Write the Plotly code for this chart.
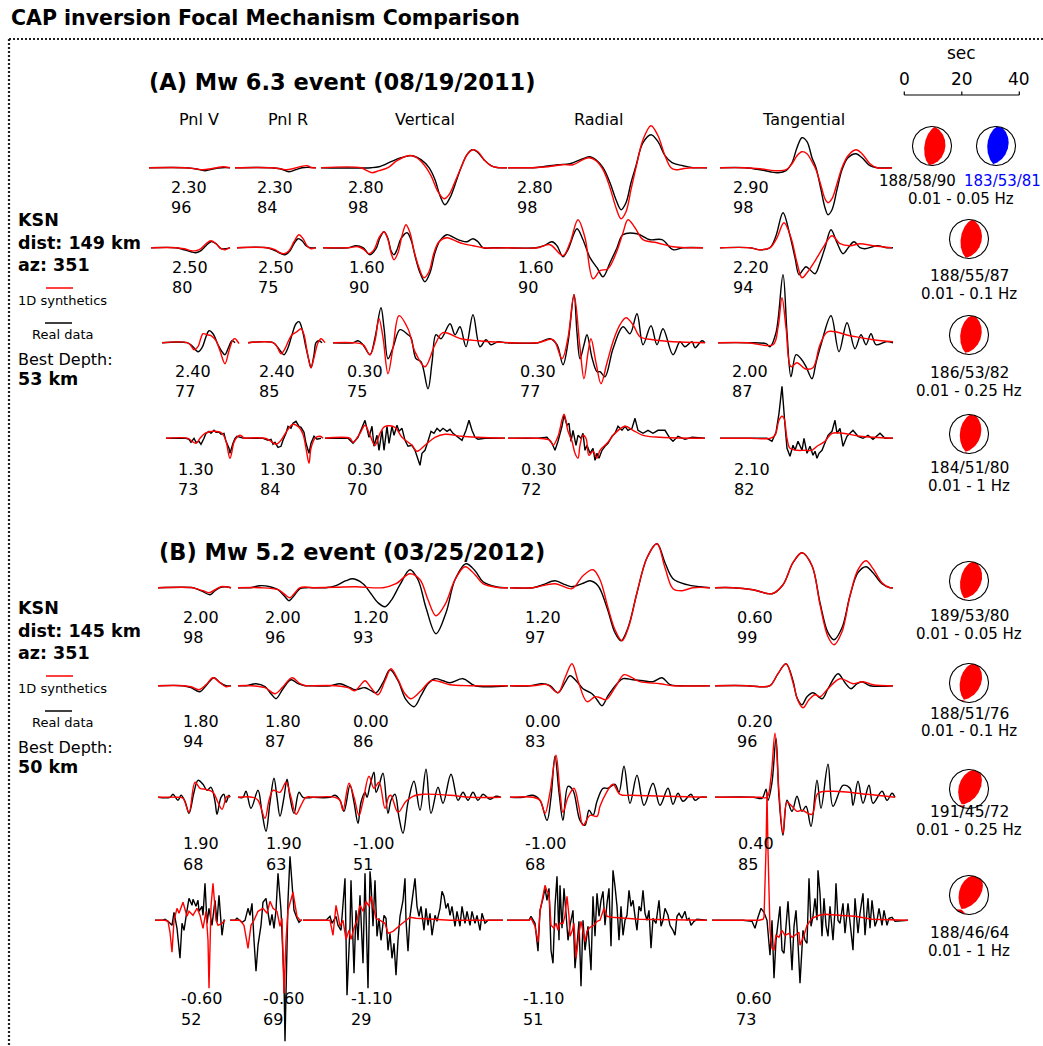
import numpy as np
import plotly.graph_objects as go

# ---------------------------------------------------------------------------
# Figure / scale constants
# ---------------------------------------------------------------------------
W, H = 1043, 1046
SEC_PX = 115 / 40.0          # horizontal time scale (pixels per second)
DT = 1.0 / SEC_PX            # sampling interval of the waveform keypoints (s)
AMP_PX = 1.0                 # scaled amplitude unit -> pixels

COMPONENTS = ["Pnl V", "Pnl R", "Vertical", "Radial", "Tangential"]
BANDS = ["0.01 - 0.05 Hz", "0.01 - 0.1 Hz", "0.01 - 0.25 Hz", "0.01 - 1 Hz"]

# time shifts (s) and cross-correlation (%) for each band / component
A_SHIFT = [[2.30, 2.30, 2.80, 2.80, 2.90],
           [2.50, 2.50, 1.60, 1.60, 2.20],
           [2.40, 2.40, 0.30, 0.30, 2.00],
           [1.30, 1.30, 0.30, 0.30, 2.10]]
A_CC = [[96, 84, 98, 98, 98],
        [80, 75, 90, 90, 94],
        [77, 85, 75, 77, 87],
        [73, 84, 70, 72, 82]]
B_SHIFT = [[2.00, 2.00, 1.20, 1.20, 0.60],
           [1.80, 1.80, 0.00, 0.00, 0.20],
           [1.90, 1.90, -1.00, -1.00, 0.40],
           [-0.60, -0.60, -1.10, -1.10, 0.60]]
B_CC = [[98, 96, 93, 97, 99],
        [94, 87, 86, 83, 96],
        [68, 63, 51, 68, 85],
        [52, 69, 29, 51, 73]]

# best double-couple solutions (strike, dip, rake) per band
A_MECH = [(188, 58, 90), (188, 55, 87), (186, 53, 82), (184, 51, 80)]
A_ALT_MECH = (183, 53, 81)
B_MECH = [(189, 53, 80), (188, 51, 76), (191, 45, 72), (188, 46, 64)]

# ---------------------------------------------------------------------------
# Waveform keypoints: (sample index, scaled amplitude), one list per component
# OBS = real data (black), SYN = 1D synthetics (red)
# ---------------------------------------------------------------------------
A1_OBS = [
    [(0, 0), (36, 0), (46, -1), (56, -3), (65, -1), (73, 0), (81, 0)],
    [(0, 0), (36, 0), (45, -1), (54, -4), (61, -2), (67, 0), (81, 0)],
    [(0, 0), (50, 0), (58, 1), (70, 6), (80, 10), (91, 12), (100, 8), (108, 0), (114, -12), (119, -28), (124, -37),
     (129, -30), (134, -17), (140, 0), (146, 13), (151, 18), (156, 16), (163, 8), (170, 2), (177, 0), (186, 0)],
    [(0, 0), (25, 0), (35, 1), (50, 3), (62, 4), (75, 9), (82, 11), (88, 8), (95, 0), (102, -15), (108, -32),
     (113, -42), (118, -35), (123, -15), (128, 2), (135, 25), (143, 33), (150, 26), (157, 12), (164, 5), (175, 2),
     (185, 0), (199, 0)],
    [(0, 0), (25, 0), (40, -2), (50, -4), (58, -5), (66, -3), (72, 5), (77, 20), (82, 30), (87, 26), (92, 10),
     (96, 0), (101, -22), (105, -40), (108, -47), (112, -42), (117, -22), (122, -2), (128, 10), (136, 14),
     (142, 10), (150, 2), (157, 0), (172, 0)],
]
A1_SYN = [
    [(0, 0), (36, 0), (46, -1), (54, -2), (62, -1), (68, 0), (74, 1), (81, 0)],
    [(0, 0), (36, 0), (45, -1), (51, -2), (58, -1), (65, 1), (72, 2), (77, 0), (81, 0)],
    [(0, 0), (40, 0), (46, -3), (51, -5), (58, -3), (67, 0), (76, 7), (87, 12), (94, 11), (103, 3), (110, -8),
     (117, -24), (123, -31), (128, -27), (134, -14), (140, 0), (146, 13), (152, 18), (157, 16), (164, 7),
     (172, 1), (180, 0), (186, 0)],
    [(0, 0), (25, 0), (40, 1), (55, 3), (65, 3), (75, 8), (81, 10), (88, 7), (95, -2), (102, -20), (108, -40),
     (113, -51), (118, -44), (123, -22), (128, 0), (135, 28), (143, 42), (150, 32), (157, 12), (163, 0),
     (168, -2), (175, -1), (185, 0), (199, 0)],
    [(0, 0), (25, 0), (40, -1), (55, -3), (66, -2), (72, 4), (77, 12), (82, 16), (87, 14), (92, 6), (96, -2),
     (101, -18), (105, -31), (108, -35), (112, -31), (117, -16), (122, 0), (128, 12), (136, 18), (142, 14),
     (150, 4), (157, 0), (172, 0)],
]

A2_OBS = [
    [(0, 0), (25, 0), (33, -2), (40, -4), (45, -5), (50, -3), (55, 2), (60, 6), (65, 4), (70, -1), (75, -1), (79, 0)],
    [(0, 0), (30, 0), (38, -3), (44, -6), (48, -7), (53, -3), (57, 4), (61, 9), (65, 7), (69, 2), (73, 0), (79, 0)],
    [(0, 0), (25, 0), (33, 2), (40, 0), (47, -7), (53, -1), (57, 10), (61, 16), (65, 9), (68, -3), (71, -7),
     (74, -2), (78, 9), (84, 15), (88, 8), (92, -8), (97, -25), (102, -34), (107, -25), (112, -5), (117, 7),
     (124, 13), (131, 10), (138, 7), (144, 6), (150, 9), (155, 6), (160, 0), (170, 0), (185, 0)],
    [(0, 0), (28, 0), (36, 2), (44, 6), (49, 2), (55, -9), (60, -2), (69, 19), (75, 8), (82, -10), (89, -20),
     (95, -29), (102, -15), (109, 0), (115, 13), (129, 14), (142, 8), (154, 8), (165, -2), (175, 0), (195, 0)],
    [(0, 0), (30, 0), (40, -2), (50, 0), (56, 12), (63, 35), (70, 12), (75, -10), (79, -27), (83, -22), (86, -19),
     (90, -22), (95, -26), (100, -15), (105, 0), (111, 18), (117, 5), (123, -6), (129, 1), (134, 6), (140, 0),
     (145, -1), (157, 2), (167, 0), (173, 0)],
]
A2_SYN = [
    [(0, 0), (25, 0), (33, -1), (40, -3), (45, -3), (50, -1), (55, 4), (60, 7), (65, 4), (70, -1), (74, -2), (79, 0)],
    [(0, 0), (30, 0), (38, -2), (43, -5), (47, -6), (52, -3), (57, 6), (62, 13), (66, 9), (70, 2), (74, -1), (79, 0)],
    [(0, 0), (25, 0), (35, 1), (41, -2), (46, -6), (51, -2), (56, 10), (61, 16), (65, 8), (68, -5), (71, -12),
     (75, -5), (79, 12), (83, 23), (87, 15), (91, -3), (96, -20), (101, -30), (106, -24), (111, -5), (116, 6),
     (124, 10), (132, 7), (140, 4), (150, 2), (160, 0), (185, 0)],
    [(0, 0), (30, 0), (42, 3), (55, -8), (62, 5), (70, 28), (77, 10), (85, -31), (92, -23), (100, -21), (109, -3),
     (115, 15), (120, 28), (127, 20), (135, 8), (149, 5), (165, 1), (179, 0), (195, 0)],
    [(0, 0), (30, 0), (40, -2), (50, 0), (57, 10), (64, 25), (71, 10), (77, -15), (82, -30), (87, -25), (97, -10),
     (103, 0), (112, 12), (120, 4), (130, 2), (140, 4), (153, 2), (172, 0)],
]

A3_OBS = [
    [(0, 0), (25, 0), (30, -3), (36, -9), (40, -5), (44, 6), (47, 12), (51, 9), (56, -2), (60, -9), (63, -12),
     (66, -6), (70, 2), (73, 0)],
    [(0, 0), (25, 0), (30, -5), (36, -12), (40, -5), (44, 8), (48, 19), (51, 21), (54, 14), (58, -5), (61, -18),
     (63, -25), (66, -12), (68, 0), (71, 2), (74, 0)],
    [(0, 0), (20, 0), (25, 2), (30, -2), (37, -12), (42, 5), (48, 35), (51, 15), (55, -16), (60, -5), (67, 13),
     (75, 8), (78, 5), (83, -16), (88, -19), (95, -46), (99, -20), (103, 8), (108, 4), (117, 19), (122, 8),
     (127, 16), (133, -4), (140, 28), (147, -4), (153, 3), (158, -2), (165, 1), (172, 0), (180, 0)],
    [(0, 0), (30, 0), (42, 4), (49, -2), (55, -22), (60, 0), (66, 48), (69, 10), (72, -16), (76, -2), (79, 8),
     (84, -15), (89, -29), (92, -29), (97, -34), (105, -6), (115, 16), (122, 9), (129, 29), (135, -2), (143, 17),
     (149, -2), (155, 14), (165, -12), (172, 1), (177, -4), (184, 1), (187, -5), (194, 2), (197, 0)],
    [(0, 0), (30, 0), (48, -1), (52, -4), (58, 10), (65, 68), (69, 10), (73, -34), (78, -12), (83, -16), (88, -24),
     (94, -36), (98, -20), (103, -2), (113, 27), (121, -9), (129, 20), (137, -6), (143, 8), (148, -2), (153, 9),
     (158, -2), (168, 1), (175, 0)],
]
A3_SYN = [
    [(0, 0), (25, 0), (29, -3), (32, -7), (36, -4), (39, 5), (41, 9), (45, 8), (49, 7), (54, 2), (58, -8),
     (63, -21), (67, -8), (71, 3), (73, 4), (77, -1)],
    [(0, 0), (25, 0), (29, -4), (33, -11), (37, -6), (41, 3), (44, 8), (49, 11), (53, 14), (56, 8), (59, -8),
     (63, -25), (66, -15), (70, 0), (73, 4), (77, 0)],
    [(0, 0), (20, 0), (30, -2), (37, -12), (42, 2), (46, 24), (50, 5), (55, -31), (60, -5), (66, 27), (75, 14),
     (82, -9), (92, -24), (102, -2), (110, 10), (128, 4), (145, 2), (178, 0)],
    [(0, 0), (30, 0), (45, 3), (54, -16), (60, 5), (66, 48), (72, -5), (76, -36), (80, -10), (83, 4), (88, -20),
     (93, -41), (99, -20), (105, 1), (112, 18), (118, 25), (125, 18), (132, 6), (145, 3), (165, 1), (197, 0)],
    [(0, 0), (30, 0), (55, -2), (60, 15), (64, 45), (68, 15), (73, -24), (79, -20), (87, -26), (95, -25),
     (102, -2), (110, 11), (132, 7), (155, 3), (175, 1)],
]

A4_OBS = [
    [(0, 0), (20, 0), (23, -1), (25, -4), (28, 0), (30, -4), (33, -3), (35, -6), (38, 0), (40, 5), (43, 7), (45, 5),
     (48, 8), (50, 6), (53, 6), (55, 4), (58, 5), (60, -3), (63, -10), (64, -15), (67, -5), (69, 0), (71, 2),
     (74, 1), (78, 0)],
    [(0, 0), (20, 0), (25, -2), (28, -1), (30, -6), (32, -4), (35, -9), (38, -8), (40, -2), (43, 5), (45, 12),
     (48, 10), (50, 15), (53, 17), (56, 12), (58, 11), (61, 6), (63, -5), (66, -15), (68, -5), (71, 2), (74, -1),
     (78, 0)],
    [(0, 0), (23, 0), (28, -5), (33, 1), (40, 18), (44, 1), (47, 12), (49, -8), (52, 3), (54, -12), (57, 8),
     (59, -12), (62, 12), (64, -5), (67, 12), (69, 3), (72, 13), (74, 7), (77, 10), (80, -2), (83, -8), (87, -7),
     (90, -12), (93, -20), (95, -27), (97, -15), (100, -12), (103, -3), (106, 7), (109, 5), (112, 10), (115, 7),
     (118, 10), (122, 7), (125, 9), (128, 5), (133, 1), (137, -2), (141, 8), (144, 18), (147, 8), (150, 1),
     (153, -1), (160, 0), (180, 0)],
    [(0, 0), (30, 0), (39, 1), (44, -5), (47, -12), (50, -3), (54, 12), (56, 23), (59, 13), (61, 15), (63, -3),
     (65, 8), (68, -7), (70, 3), (73, 0), (75, 5), (77, -12), (79, -7), (82, -15), (85, -10), (87, -22), (89, -15),
     (91, -20), (94, -12), (97, -8), (100, -5), (104, 2), (107, 5), (110, 12), (114, 8), (117, 12), (120, 8),
     (124, 10), (127, 20), (130, 8), (135, 5), (140, 8), (145, 5), (150, 8), (157, 8), (162, 0), (165, -3),
     (170, 2), (177, -1), (184, 1), (192, 0), (197, 0)],
    [(0, 0), (30, 0), (47, 0), (52, -3), (56, 6), (59, 25), (62, 52), (65, 13), (67, -10), (70, -18), (73, -7),
     (75, -12), (78, -3), (82, -12), (84, 0), (87, -15), (90, -8), (93, -17), (95, -13), (97, -20), (99, -15),
     (102, -12), (105, -5), (108, 3), (112, 7), (115, 18), (117, 5), (120, 10), (123, -8), (127, 2), (130, 5),
     (133, 8), (138, 2), (143, 0), (148, 3), (153, -1), (160, 5), (165, 0), (173, 0)],
]
A4_SYN = [
    [(0, 0), (22, 0), (26, -3), (30, -5), (34, 0), (39, 5), (48, 7), (56, 5), (60, -3), (64, -20), (68, -4),
     (71, 1), (74, 3), (78, 0)],
    [(0, 0), (22, 0), (28, -3), (33, -6), (38, -2), (43, 6), (50, 14), (56, 11), (60, 4), (63, -10), (66, -25),
     (68, -10), (72, 0), (77, 2), (80, 0)],
    [(0, 0), (25, 0), (28, -4), (35, 5), (40, 13), (45, 3), (50, -7), (55, 5), (60, 12), (70, 11), (77, 1),
     (87, -7), (92, -13), (100, -7), (110, 1), (120, 4), (137, 2), (153, 1), (180, 0)],
    [(0, 0), (30, 0), (42, -2), (45, -7), (50, 2), (56, 24), (60, 7), (64, -3), (67, -15), (70, -20), (72, -7),
     (75, 3), (78, 0), (81, -17), (85, -13), (89, -20), (92, -12), (99, -5), (107, 5), (117, 12), (125, 8),
     (135, 3), (152, 1), (197, 0)],
    [(0, 0), (30, 0), (50, 0), (55, 3), (59, 18), (62, 22), (64, 20), (67, 0), (70, -10), (77, -12), (85, -12),
     (92, -12), (97, -8), (105, -3), (112, 5), (123, 5), (140, 2), (173, 0)],
]

B1_OBS = [
    [(0, 0), (35, 0), (38, -1), (45, -4), (52, -7), (57, -3), (62, 0), (67, 1), (73, 0)],
    [(0, 0), (12, 0), (22, 2), (32, 1), (40, -2), (47, -9), (51, -13), (56, -8), (62, -1), (68, 0), (75, 0)],
    [(0, 0), (13, 0), (23, 2), (33, 7), (40, 9), (50, 4), (58, -6), (65, -15), (72, -19), (78, -13), (87, 3),
     (97, 18), (105, 8), (113, -20), (123, -46), (133, -25), (142, 8), (153, 24), (162, 17), (170, 6), (183, 1),
     (195, 0)],
    [(0, 0), (23, 0), (33, 3), (45, 7), (55, 3), (62, 1), (72, 4), (80, 7), (88, 2), (97, -20), (105, -45),
     (111, -53), (118, -40), (127, -5), (137, 30), (147, 44), (155, 25), (163, 9), (177, 3), (190, 1), (200, 0)],
    [(0, 0), (18, 0), (38, -2), (57, -6), (68, 3), (78, 25), (87, 35), (97, 22), (105, -15), (113, -45),
     (119, -52), (127, -40), (135, -8), (143, 15), (151, 21), (158, 15), (167, 4), (175, 0), (178, 0)],
]
B1_SYN = [
    [(0, 0), (35, 0), (38, -1), (45, -3), (51, -5), (57, -2), (63, 1), (73, 0)],
    [(0, 0), (22, 0), (40, -2), (47, -7), (52, -10), (57, -5), (62, 0), (75, 0)],
    [(0, 0), (23, 0.5), (43, 1), (70, 0), (83, 4), (97, 14), (107, 8), (115, -12), (123, -28), (132, -17),
     (142, 8), (152, 21), (162, 13), (170, 4), (183, 0.5), (195, 0)],
    [(0, 0), (23, 0), (45, 4), (62, -1), (73, 12), (83, 18), (90, 8), (98, -20), (105, -42), (112, -53),
     (119, -38), (127, -5), (137, 30), (147, 44), (155, 20), (163, -1), (172, -3), (183, 0), (200, 0)],
    [(0, 0), (18, 0), (38, -2), (57, -6), (68, 3), (78, 25), (87, 35), (97, 22), (105, -17), (113, -49),
     (119, -57), (127, -44), (135, -8), (143, 18), (151, 27), (158, 19), (167, 5), (175, 0), (178, 0)],
]

B2_OBS = [
    [(0, 0), (25, 0), (33, -2), (42, -6), (48, 0), (56, 8), (62, 3), (68, 0), (73, 0)],
    [(0, 0), (8, 0), (18, 2), (27, -1), (33, -8), (38, -13), (45, -3), (53, 6), (60, 2), (67, 0), (75, 0)],
    [(0, 0), (17, 0), (27, 2), (37, -2), (42, -4), (52, -2), (58, -5), (63, -7), (70, 3), (77, 16), (85, 5),
     (93, -14), (101, -21), (108, -10), (115, 2), (122, 7), (130, 5), (137, 3), (150, 7), (162, 0), (195, 0)],
    [(0, 0), (20, 0), (32, 2), (40, 0), (48, -7), (55, 3), (60, 10), (67, 4), (73, -3), (82, -8), (87, -14),
     (92, -20), (98, -10), (107, 2), (113, 7), (123, 6), (133, 5), (143, 4), (152, 8), (160, 1), (170, 0),
     (200, 0)],
    [(0, 0), (32, 0), (45, -1), (55, 0), (63, 12), (71, 22), (78, 5), (82, -12), (87, -19), (92, -11), (98, -7),
     (107, -13), (113, -3), (123, 12), (130, 3), (136, -3), (142, 2), (147, 4), (155, 0), (178, 0)],
]
B2_SYN = [
    [(0, 0), (25, 0), (33, -1), (41, -4), (48, 1), (55, 8), (62, 3), (68, -1), (73, 0)],
    [(0, 0), (12, 0), (27, -2), (37, -8), (45, -1), (54, 8), (62, 2), (68, 0), (75, 0)],
    [(0, 0), (23, 0), (35, -2), (42, -5), (47, 0), (52, 5), (58, -2), (65, -9), (72, 5), (78, 17), (85, 6),
     (92, -8), (98, -13), (108, -5), (118, 5), (127, 4), (137, 1), (157, 0), (195, 0)],
    [(0, 0), (23, 0), (37, 1), (48, -7), (55, 8), (62, 22), (68, 5), (77, -16), (85, -11), (90, -12), (96, -14),
     (105, -2), (114, 11), (122, 8), (130, 4), (150, 2), (163, 0), (200, 0)],
    [(0, 0), (32, 0), (45, -1), (55, 0), (63, 12), (71, 22), (78, 3), (83, -15), (88, -22), (94, -14), (100, -9),
     (105, -11), (113, -3), (125, 7), (138, 2), (148, 4), (158, 1), (178, 0)],
]

B3_OBS = [
    [(0, 0), (12, 0), (15, 3), (20, -3), (23, 2), (27, -4), (31, -16), (36, 5), (40, 17), (45, 13), (49, 7),
     (53, 10), (57, -4), (59, -17), (63, 0), (66, 3), (68, -5), (71, 2), (72, 0)],
    [(0, 0), (5, 0), (8, 6), (13, -11), (20, 7), (24, -15), (28, -34), (32, -5), (36, 19), (39, 0), (42, -19),
     (46, 0), (49, 18), (52, 0), (56, -16), (61, 5), (65, 0), (75, 0)],
    [(0, 0), (17, 0), (22, 2), (27, -3), (31, -14), (37, 12), (41, -5), (45, -26), (48, -5), (52, 5), (54, 0),
     (57, 12), (61, 25), (63, 5), (66, 12), (70, 24), (75, -16), (78, -3), (82, 3), (86, -20), (90, -36), (95, -5),
     (101, 16), (107, -13), (113, 28), (118, -16), (125, 10), (130, -6), (138, 23), (145, -3), (150, 5),
     (155, -3), (160, 5), (165, -3), (170, 3), (177, -2), (183, 1), (188, 0)],
    [(0, 0), (13, 0), (23, 2), (30, -3), (37, -23), (41, 0), (45, 41), (49, 5), (53, -23), (58, 11), (63, 7),
     (70, -23), (75, -28), (79, -13), (83, -18), (87, -4), (93, 9), (98, 9), (105, 13), (109, 5), (114, 31),
     (120, -6), (127, 22), (134, -8), (143, 14), (150, -8), (158, 9), (163, -7), (168, 4), (173, -4), (181, 3),
     (185, -3), (190, 0), (197, 0)],
    [(0, 0), (38, 0), (47, -1), (51, 8), (53, -3), (57, 15), (61, 59), (64, 0), (68, -38), (72, -3), (77, -14),
     (82, 1), (87, -14), (91, -9), (96, -29), (102, 17), (106, -11), (113, 33), (118, -9), (128, 12), (135, 9),
     (138, -8), (143, 16), (148, -6), (154, 12), (158, -6), (167, 6), (172, -3), (177, 4), (180, 0)],
]
B3_SYN = [
    [(0, 0), (20, 0), (25, -1), (31, -15), (37, 15), (42, 9), (48, 8), (55, 5), (60, -5), (64, -12), (69, 1),
     (72, 0)],
    [(0, 0), (15, 0), (20, -3), (27, -21), (31, -3), (35, 7), (42, 5), (48, 15), (53, 0), (58, -17), (63, -8),
     (68, 0), (75, 0)],
    [(0, 0), (22, 0), (27, -3), (30, -13), (36, 14), (41, 0), (46, -18), (50, -4), (56, 21), (61, 9), (66, 15),
     (72, -11), (76, 1), (78, 2), (85, -15), (93, -4), (100, 1), (110, 3), (137, 2), (157, 0), (188, 0)],
    [(0, 0), (23, 0), (30, -3), (35, -16), (40, 5), (46, 42), (50, 5), (53, -15), (58, 0), (64, 9), (69, -10),
     (73, -28), (80, -18), (87, -19), (90, -9), (96, 4), (103, 13), (110, 3), (123, 2), (157, 1), (197, 0)],
    [(0, 0), (45, 0), (52, 0), (56, 20), (60, 64), (64, 5), (68, -36), (72, -5), (77, -9), (82, -14), (87, -13),
     (97, -17), (103, 4), (118, 6), (152, 3), (180, 0)],
]

B4_OBS = [
    [(0, 0), (7, 0), (10, 1), (13, -1), (17, -5), (19, 8), (22, -8), (25, -38), (27, -3), (29, -10), (32, 10),
     (34, 22), (37, 15), (38, 21), (41, 14), (43, 20), (44, 9), (47, 14), (48, 5), (50, 37), (52, -3), (54, 12),
     (57, -5), (60, 20), (62, -2), (64, 25), (67, -15), (69, 0), (70, 0)],
    [(0, 0), (5, 0), (7, 2), (12, -2), (15, 0), (18, 12), (20, 5), (22, 17), (24, -20), (26, -51), (28, -25),
     (31, -5), (33, 18), (36, 22), (38, 8), (40, -5), (42, 6), (44, -8), (46, 10), (48, 47), (51, 10), (52, -20),
     (54, -60), (55, -121), (57, -40), (58, 20), (60, 64), (62, 35), (64, 10), (67, 2), (69, -2), (71, 0),
     (72, 0)],
    [(0, 0), (23, 0), (27, 4), (29, -3), (33, 4), (35, -5), (38, -10), (42, 42), (44, -75), (47, -6), (48, 40),
     (51, -53), (53, 10), (55, -20), (57, 25), (60, -43), (62, 47), (64, -20), (65, -68), (67, 49), (68, 37),
     (70, -6), (72, 40), (74, -16), (76, 2), (78, -20), (81, 5), (83, 2), (85, -30), (87, -13), (89, -38),
     (91, -23), (93, -55), (95, -20), (97, 4), (100, 20), (102, 42), (103, 0), (105, -31), (107, 4), (110, 30),
     (112, 42), (114, 14), (116, 4), (118, 14), (121, -10), (123, 12), (125, -5), (127, 7), (129, -15), (132, 5),
     (134, -1), (137, 12), (139, 29), (141, 24), (143, 12), (145, 17), (147, 5), (149, 14), (152, -6), (154, 9),
     (157, -6), (159, 14), (162, -3), (164, 9), (167, -5), (169, 9), (172, -3), (174, 5), (177, -10), (179, 7),
     (182, -3), (185, 0), (200, 0)],
    [(0, 0), (22, 0), (24, 4), (28, -3), (31, -31), (33, 10), (36, 22), (38, 32), (40, 20), (42, 32), (44, -30),
     (46, -43), (48, 14), (50, 44), (52, -20), (53, 35), (55, -8), (57, 32), (59, 7), (61, -20), (63, -5),
     (66, 10), (68, -48), (70, -20), (72, -1), (74, -66), (76, 0), (78, -30), (81, -6), (84, -50), (86, 24),
     (88, -16), (90, 27), (92, 4), (94, 20), (96, 29), (98, -5), (100, 17), (102, 32), (104, -26), (106, 50),
     (108, 34), (110, 14), (112, -20), (114, 14), (116, -15), (118, 0), (120, 5), (122, 30), (124, 14), (126, 20),
     (128, 4), (130, -10), (132, 14), (134, 9), (136, 30), (138, 7), (140, 0), (142, 10), (144, -28), (146, 2),
     (149, -3), (152, 20), (154, -6), (156, 0), (158, 12), (161, 5), (163, -5), (166, -10), (168, -15), (170, 4),
     (172, 7), (175, 2), (178, 9), (180, 0), (182, 2), (184, -5), (187, -1), (190, 1), (200, 0)],
    [(0, 0), (31, 0), (40, -1), (43, -8), (46, 3), (49, 12), (52, 8), (55, 0), (58, -35), (60, 0), (62, -58),
     (64, -20), (66, -3), (68, 14), (70, -30), (72, -33), (74, -6), (76, 19), (78, -13), (80, -50), (82, -6),
     (84, 10), (86, -23), (88, -63), (91, -10), (93, -20), (95, -23), (97, 42), (99, -6), (101, 4), (103, 22),
     (105, 0), (106, 50), (108, 27), (110, -16), (112, 22), (114, -5), (116, -16), (118, 14), (121, -20),
     (123, 10), (124, 37), (126, 0), (128, -3), (131, 17), (133, -13), (136, 17), (138, -3), (141, -30),
     (143, 22), (146, -13), (148, 7), (151, 27), (153, -15), (156, 22), (158, -8), (160, 20), (163, -6), (165, 0),
     (167, 12), (170, -5), (172, 10), (175, -5), (177, 2), (180, 3), (183, -1), (196, 0)],
]
B4_SYN = [
    [(0, 0), (10, 0), (13, -1), (15, -12), (17, -32), (19, 0), (22, 12), (24, 7), (28, 18), (32, 4), (34, 9),
     (38, 5), (42, 12), (45, 5), (48, -8), (51, 9), (53, -20), (54, -68), (56, 14), (58, 37), (61, 0), (63, -5),
     (67, -3), (70, 0)],
    [(0, 0), (10, 0), (14, -5), (18, -28), (21, -5), (24, 0), (28, 9), (33, 12), (37, 7), (40, 19), (43, 12),
     (47, 9), (50, -6), (52, 2), (54, -73), (56, -20), (58, 10), (63, 28), (67, 4), (70, 0), (72, 0)],
    [(0, 0), (23, 0), (27, 0), (30, -15), (33, 15), (35, 5), (37, -6), (40, 0), (43, -19), (46, -10), (48, -19),
     (51, -8), (54, 0), (57, 15), (60, 9), (63, 19), (66, 14), (68, 24), (71, 12), (73, 2), (77, 0), (82, -3),
     (85, -13), (90, -11), (97, -5), (107, 3), (113, 2), (147, 0), (200, 0)],
    [(0, 0), (22, 0), (24, 2), (28, -6), (31, -22), (33, 9), (38, 35), (40, 29), (42, 27), (44, -5), (47, -8),
     (49, -3), (51, -10), (53, -3), (56, -3), (58, 5), (60, 24), (62, 4), (63, -16), (65, -11), (67, -3),
     (69, -38), (72, -13), (74, -1), (78, -21), (80, -11), (83, -7), (87, -5), (90, -1), (93, 0), (97, 12),
     (100, 4), (105, 3), (115, 2), (132, 1), (200, 0)],
    [(0, 0), (47, 0), (51, 1), (52, 3), (54, 70), (55, 128), (56, 70), (58, -10), (60, -28), (62, -30),
     (64, -15), (67, -17), (70, -10), (73, -15), (77, -13), (80, -17), (83, -15), (87, -12), (88, -25), (92, -15),
     (95, -5), (100, 2), (107, 5), (113, 6), (127, 5), (143, 4), (160, 1), (196, 0)],
]

# ---------------------------------------------------------------------------
# Page geometry (pixels)
# ---------------------------------------------------------------------------
ROWS = [
    # baseline, window start for each component, label x, label y (shift, cc), line shapes (obs, syn)
    dict(obs=A1_OBS, syn=A1_SYN, base=167.7, x0=[149, 235, 321, 508, 720],
         lx=[170, 256, 347, 516, 732], ly=(187, 207), shape=("spline", "spline"), shift=A_SHIFT[0], cc=A_CC[0]),
    dict(obs=A2_OBS, syn=A2_SYN, base=247.7, x0=[151, 237, 323, 508, 720],
         lx=[171, 257, 348, 517, 732], ly=(267, 287), shape=("spline", "spline"), shift=A_SHIFT[1], cc=A_CC[1]),
    dict(obs=A3_OBS, syn=A3_SYN, base=342.7, x0=[162, 248, 333, 508, 718],
         lx=[174, 258, 346, 519, 731], ly=(371, 391), shape=("spline", "spline"), shift=A_SHIFT[2], cc=A_CC[2]),
    dict(obs=A4_OBS, syn=A4_SYN, base=438.3, x0=[166, 243, 325, 508, 720],
         lx=[177, 259, 346, 520, 733], ly=(469, 489), shape=("linear", "spline"), shift=A_SHIFT[3], cc=A_CC[3]),
    dict(obs=B1_OBS, syn=B1_SYN, base=587.7, x0=[158, 238, 313, 510, 715],
         lx=[182, 264, 352, 524, 736], ly=(617, 637), shape=("spline", "spline"), shift=B_SHIFT[0], cc=B_CC[0]),
    dict(obs=B2_OBS, syn=B2_SYN, base=685.7, x0=[158, 238, 313, 510, 715],
         lx=[182, 264, 352, 524, 736], ly=(721, 741), shape=("spline", "spline"), shift=B_SHIFT[1], cc=B_CC[1]),
    dict(obs=B3_OBS, syn=B3_SYN, base=797.3, x0=[158, 238, 313, 510, 715],
         lx=[182, 265, 352, 524, 737], ly=(843, 864), shape=("spline", "spline"), shift=B_SHIFT[2], cc=B_CC[2]),
    dict(obs=B4_OBS, syn=B4_SYN, base=920.3, x0=[155, 230, 303, 507, 712],
         lx=[180, 262, 350, 522, 735], ly=(998, 1019), shape=("linear", "linear"), shift=B_SHIFT[3], cc=B_CC[3]),
]

# beachball centre (x, y) and the two text lines below it
BALLS = [
    (969, 239, 276, 294), (969, 335, 373, 391), (969, 434, 468, 486),
    (969, 581, 616, 634), (969, 683, 714, 731), (969, 789, 812, 830), (969, 895, 933, 951),
]
BALL_R = 19.5

FONT = "DejaVu Sans"
fig = go.Figure()


def add_line(x, y, color, width=1.4, shape="linear", dash=None):
    fig.add_trace(go.Scatter(x=x, y=y, mode="lines", hoverinfo="skip",
                             line=dict(color=color, width=width, shape=shape, dash=dash)))


def add_text(x, y, text, size=16, color="black", xanchor="left", yanchor="middle", bold=False):
    fig.add_annotation(x=x, y=y, xref="x", yref="y", text=f"<b>{text}</b>" if bold else text,
                       showarrow=False, xanchor=xanchor, yanchor=yanchor, borderpad=0,
                       font=dict(family=FONT, size=size, color=color))


def add_wave(pts, x0, base, color, shape):
    t = np.array([p[0] for p in pts], float) * DT
    a = np.array([p[1] for p in pts], float)
    add_line(x0 + t * SEC_PX, base - a * AMP_PX, color, 1.4, shape)


# ---------------------------------------------------------------------------
# Focal mechanism (lower hemisphere, equal-area)
# ---------------------------------------------------------------------------
def fault_vectors(strike, dip, rake):
    f, d, l = np.radians([strike, dip, rake])
    normal = np.array([-np.sin(d) * np.sin(f), np.sin(d) * np.cos(f), -np.cos(d)])
    slip = np.array([np.cos(l) * np.cos(f) + np.cos(d) * np.sin(l) * np.sin(f),
                     np.cos(l) * np.sin(f) - np.cos(d) * np.sin(l) * np.cos(f),
                     -np.sin(l) * np.sin(d)])
    return normal, slip


def ray_crossing(v, th):
    """Projected radius where azimuth ray th meets the nodal plane with normal v."""
    h = v[0] * np.cos(th) + v[1] * np.sin(th)
    tp = -h / v[2]
    r = np.full_like(th, np.inf)
    ok = tp >= 0
    plunge = np.arctan(tp[ok])
    r[ok] = np.sqrt(2) * np.sin((np.pi / 2 - plunge) / 2)
    return r


def runs(mask):
    idx = np.where(mask)[0]
    if len(idx) == 0:
        return []
    groups = np.split(idx, np.where(np.diff(idx) > 1)[0] + 1)
    if len(groups) > 1 and groups[0][0] == 0 and groups[-1][-1] == len(mask) - 1:
        groups[0] = np.concatenate([groups[-1], groups[0]])
        groups.pop()
    return groups


def beachball(cx, cy, mech, color):
    th = np.linspace(0, 2 * np.pi, 720, endpoint=False)
    n, s = fault_vectors(*mech)
    r1, r2 = ray_crossing(n, th), ray_crossing(s, th)
    lo, hi = np.minimum(r1, r2), np.maximum(r1, r2)
    polys = []
    if n[2] * s[2] > 0:                       # compressional centre
        rb = np.minimum(lo, 1.0)
        polys.append((np.zeros_like(th), rb, np.arange(len(th))))
        for g in runs(hi < 1.0):
            polys.append((hi, np.ones_like(th), g))
    else:
        for g in runs(lo < 1.0):
            polys.append((lo, np.minimum(hi, 1.0), g))
    for inner, outer, g in polys:
        tt = th[g]
        xo = cx + BALL_R * outer[g] * np.sin(tt)
        yo = cy - BALL_R * outer[g] * np.cos(tt)
        if np.all(inner[g] == 0):
            xs, ys = xo, yo
        else:
            xi = cx + BALL_R * inner[g] * np.sin(tt)
            yi = cy - BALL_R * inner[g] * np.cos(tt)
            xs, ys = np.concatenate([xo, xi[::-1]]), np.concatenate([yo, yi[::-1]])
        fig.add_trace(go.Scatter(x=np.append(xs, xs[0]), y=np.append(ys, ys[0]), mode="lines",
                                 fill="toself", fillcolor=color, line=dict(width=0, color=color),
                                 hoverinfo="skip"))
    tc = np.linspace(0, 2 * np.pi, 181)
    add_line(cx + BALL_R * np.sin(tc), cy - BALL_R * np.cos(tc), "black", 1.1)


# ---------------------------------------------------------------------------
# Waveforms and their labels
# ---------------------------------------------------------------------------
for row in ROWS:
    for k in range(5):
        add_wave(row["obs"][k], row["x0"][k], row["base"], "black", row["shape"][0])
    for k in range(5):
        add_wave(row["syn"][k], row["x0"][k], row["base"], "red", row["shape"][1])
    for k in range(5):
        add_text(row["lx"][k], row["ly"][0], f"{row['shift'][k]:.2f}")
        add_text(row["lx"][k], row["ly"][1], f"{row['cc'][k]}")

# beachballs
beachball(932, 146, A_MECH[0], "red")
beachball(996, 146, A_ALT_MECH, "blue")
add_text(917, 181, "%d/%d/%d" % A_MECH[0], size=15, xanchor="center")
add_text(1002, 181, "%d/%d/%d" % A_ALT_MECH, size=15, color="blue", xanchor="center")
add_text(961, 199, BANDS[0], size=15, xanchor="center")

ball_mechs = A_MECH[1:] + B_MECH
ball_bands = BANDS[1:] + BANDS
for (cx, cy, y1, y2), mech, band in zip(BALLS, ball_mechs, ball_bands):
    beachball(cx, cy, mech, "red")
    add_text(cx, y1, "%d/%d/%d" % mech, size=15.5, xanchor="center")
    add_text(cx, y2, band, size=15, xanchor="center")

# ---------------------------------------------------------------------------
# Headings, station info, legend, time scale, frame
# ---------------------------------------------------------------------------
add_text(10, 18, "CAP inversion Focal Mechanism Comparison", size=20.5, bold=True)
add_text(148, 82, "(A) Mw 6.3 event (08/19/2011)", size=22.5, bold=True)
add_text(158, 552, "(B) Mw 5.2 event (03/25/2012)", size=22.5, bold=True)

for name, xc in zip(COMPONENTS, [199, 288, 425, 598, 803]):
    add_text(xc, 119, name, size=16, xanchor="center")

for dy, dist, depth in [(0, "149", "53"), (388, "145", "50")]:
    add_text(17, 220 + dy, "KSN", size=17.5, bold=True)
    add_text(17, 243 + dy, f"dist: {dist} km", size=17.5, bold=True)
    add_text(17, 265 + dy, "az: 351", size=17.5, bold=True)
    add_line([46, 73], [288 + dy, 288 + dy], "red", 1.5)
    add_text(17, 300 + dy, "1D synthetics", size=13)
    add_line([45, 72], [323 + dy, 323 + dy], "black", 1.5)
    add_text(31, 334 + dy, "Real data", size=13)
    add_text(17, 359 + dy, "Best Depth:", size=16)
    add_text(17, 379 + dy, f"{depth} km", size=17.5, bold=True)

# time scale bar
SCALE_X0, SCALE_Y = 904.3, 95
SCALE_TICKS = [0, 20, 40]
sx = [SCALE_X0 + t * SEC_PX for t in SCALE_TICKS]
add_line([sx[0], sx[-1]], [SCALE_Y, SCALE_Y], "black", 1.2)
for t, x in zip(SCALE_TICKS, sx):
    add_line([x, x], [SCALE_Y, SCALE_Y - 3.5], "black", 1.2)
    add_text(x, 79, str(t), size=17, xanchor="center")
add_text(sx[1], 53, "sec", size=17, xanchor="center")

# dotted frame
add_line([9, W], [39, 39], "#222222", 2.2, dash="2px,2px")
add_line([9, 9], [39, H], "#222222", 2.2, dash="2px,2px")

fig.update_layout(
    width=W, height=H, margin=dict(l=0, r=0, t=0, b=0),
    paper_bgcolor="white", plot_bgcolor="white", showlegend=False,
    xaxis=dict(range=[0, W], visible=False, fixedrange=True),
    yaxis=dict(range=[H, 0], visible=False, fixedrange=True),
)
fig.write_html("out.html", config={"displayModeBar": False})
